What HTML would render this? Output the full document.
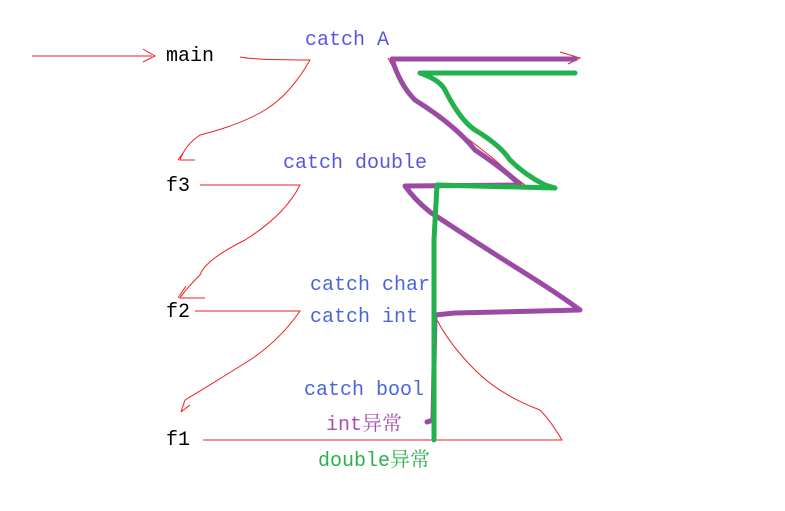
<!DOCTYPE html>
<html><head><meta charset="utf-8"><style>
html,body{margin:0;padding:0;background:#fff;width:785px;height:511px;overflow:hidden}
svg{display:block}
text{font-family:"Liberation Mono","Noto Serif CJK SC",monospace;font-size:20px}
</style></head><body>
<svg width="785" height="511" xmlns="http://www.w3.org/2000/svg">
<g fill="none" stroke="#ee2020" stroke-width="1">
<path d="M32 56 L152 56 M143 49 L155 56 L143 62"/>
<path d="M240 57 Q255 60 310 60 Q290 95 265 110 Q240 125 200 135 Q185 145 180 160 L195 160 M178 160 L185 150"/>
<path d="M200 185 L270 185 L300 185 Q285 215 245 240 Q205 260 200 275 Q185 290 180 298 L205 298 M178 298 L186 286"/>
<path d="M195 311 L300 311 Q280 340 250 360 Q210 385 185 400 L181 412 M181 412 L190 405"/>
<path d="M203 440 L562 440 Q550 420 540 410 Q500 395 475 370 Q450 345 437 320"/>
<path d="M388 58 Q410 100 430 110 Q470 140 495 160 Q515 178 525 185"/>
<path d="M560 52 L580 58 L568 64"/>
</g>
<g fill="none" stroke="#9b4ba3" stroke-width="5" stroke-linecap="round" stroke-linejoin="round">
<path d="M575 59 L392 59 Q400 85 415 100 Q455 125 475 150 Q505 170 520 185 L405 186 Q415 200 430 212 Q480 245 520 270 Q560 295 580 310 L455 313 L435 315 L433 420 L427 422"/>
</g>
<g fill="none" stroke="#22b14c" stroke-width="5" stroke-linecap="round" stroke-linejoin="round">
<path d="M575 73 L420 73 Q440 80 445 90 Q460 120 475 130 Q500 145 510 160 Q525 175 545 185 L555 188 L437 185 L434 240 L434 440"/>
</g>
<g>
<text x="166" y="61" fill="#000">main</text>
<text x="166" y="191" fill="#000">f3</text>
<text x="166" y="317" fill="#000">f2</text>
<text x="166" y="445" fill="#000">f1</text>
<text x="305" y="45" fill="#5a55e0">catch A</text>
<text x="283" y="168" fill="#5a55e0">catch double</text>
<text x="310" y="290" fill="#4a66d8">catch char</text>
<text x="310" y="322" fill="#4a66d8">catch int</text>
<text x="304" y="395" fill="#4a66d8">catch bool</text>
<text x="326" y="430" fill="#a94fb0">int异常</text>
<text x="318" y="466" fill="#2ab04c">double异常</text>
</g>
</svg>
</body></html>
